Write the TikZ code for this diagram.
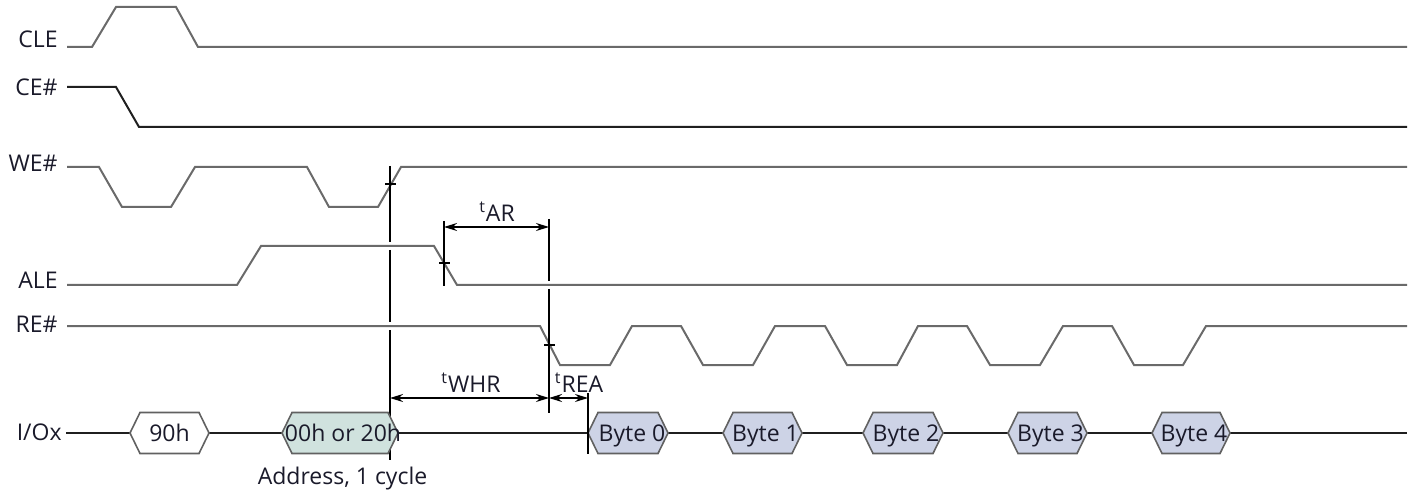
\documentclass[tikz,border=0pt]{standalone}
\usepackage{fontspec}
\setmainfont{Open Sans}
\usetikzlibrary{arrows.meta}
\definecolor{sig}{HTML}{6A6A6A}
\definecolor{addrfill}{HTML}{D0E2DE}
\definecolor{bytefill}{HTML}{CDD3E6}
\definecolor{txt}{HTML}{1A1A2A}
\tikzset{
  wave/.style={draw=sig, line width=1pt, line join=miter},
  wavedark/.style={draw=black!88, line width=1pt},
  dimline/.style={draw=black, line width=0.75pt},
  dimarrow/.style={draw=black, line width=0.75pt, {Stealth[length=6.5pt,width=4pt]}-{Stealth[length=6.5pt,width=4pt]}},
  lbl/.style={font=\fontsize{11.5}{13}\selectfont, text=txt, inner sep=0pt},
  hexline/.style={draw=black!62, line width=0.8pt},
}
\newcommand\hexval[6]{%
  \draw[hexline, fill=#4] (#2,433) -- (#2+10,412.5) -- (#3-10,412.5) -- (#3,433) -- (#3-10,453.5) -- (#2+10,453.5) -- cycle;
  \node[lbl, anchor=base] (#1) at ({(#2+#3)/2+#6},441) {#5};
}
\begin{document}
\begin{tikzpicture}[x=0.5pt,y=-0.5pt]
\useasboundingbox (0,0) rectangle (1416,496);

% signal labels
\node[lbl, anchor=base east] (lcle) at (58,48) {CLE};
\node[lbl, anchor=base east] (lce)  at (58,96) {CE\#};
\node[lbl, anchor=base east] (lwe)  at (58,172) {WE\#};
\node[lbl, anchor=base east] (lale) at (58,289) {ALE};
\node[lbl, anchor=base east] (lre)  at (58,332) {RE\#};
\node[lbl, anchor=base east] (lio)  at (62,440) {I/Ox};

% waveforms
\draw[wave] (67,47) -- (92,47) -- (116,7) -- (176,7) -- (198,47) -- (1407,47);
\draw[wavedark] (67,87) -- (116,87) -- (139,127) -- (1407,127);
\draw[wave] (67,167) -- (99,167) -- (122,207) -- (171,207) -- (195,167) -- (307,167)
  -- (329,207) -- (378,207) -- (401,167) -- (1407,167);
\draw[wave] (67,285) -- (237,285) -- (261,246) -- (434,246) -- (457,285) -- (1407,285);
\draw[wave] (67,326) -- (540,326) -- (560,365) -- (610,365) -- (632,326) -- (681,326)
  -- (703,365) -- (753,365) -- (775,326) -- (825,326) -- (847,365) -- (897,365)
  -- (918,326) -- (967,326) -- (990,365) -- (1040,365) -- (1063,326) -- (1112,326)
  -- (1134,365) -- (1183,365) -- (1206,326) -- (1407,326);

% timing reference lines
\coordinate (aTop) at (390,166);
\coordinate (aBot) at (390,460);
\coordinate (bTop) at (444,221);
\coordinate (bBot) at (444,286);
\coordinate (cTop) at (549,219);
\coordinate (cBot) at (549,413);
\coordinate (dTop) at (588,393);
\coordinate (dBot) at (588,454);
\draw[dimline] (aTop) -- (390,242) (390,250) -- (390,322) (390,330) -- (aBot);
\draw[dimline] (385,184) -- (396,184);
\draw[dimline] (bTop) -- (bBot);
\draw[dimline] (439,263) -- (450,263);
\draw[dimline] (cTop) -- (549,281) (549,289) -- (cBot);
\draw[dimline] (544,345) -- (555,345);

% arrows
\coordinate (arL) at (444,227);
\coordinate (arR) at (549,227);
\coordinate (whL) at (390,398);
\coordinate (whR) at (549,398);
\coordinate (reR) at (588,398);
\draw[dimarrow] (arL) -- (arR);
\draw[dimarrow] (whL) -- (whR);
\draw[dimarrow] (whR) -- (reR);
\node[lbl, anchor=base] (tar)  at (497,221.5) {\textsuperscript{t}AR};
\node[lbl, anchor=base] (twhr) at (471,392.5) {\textsuperscript{t}WHR};
\node[lbl, anchor=base] (trea) at (579,392.5) {\textsuperscript{t}REA};

% I/O bus
\coordinate (ioS) at (66,433);
\coordinate (ioE) at (1407,433);
\draw[wavedark] (ioS) -- (ioE);
\hexval{v90}{130}{209}{white}{90h}{0}
\hexval{vaddr}{282}{398}{addrfill}{00h or 20h}{3}
\hexval{b0}{588}{668}{bytefill}{Byte 0}{4}
\hexval{b1}{723}{802}{bytefill}{Byte 1}{3}
\hexval{b2}{863}{943}{bytefill}{Byte 2}{3}
\hexval{b3}{1008}{1087}{bytefill}{Byte 3}{3}
\hexval{b4}{1152}{1230}{bytefill}{Byte 4}{3}
\draw[dimline] (dTop) -- (dBot);
\node[lbl, anchor=base] (addr) at (342.5,484) {Address, 1 cycle};
\end{tikzpicture}
\end{document}
